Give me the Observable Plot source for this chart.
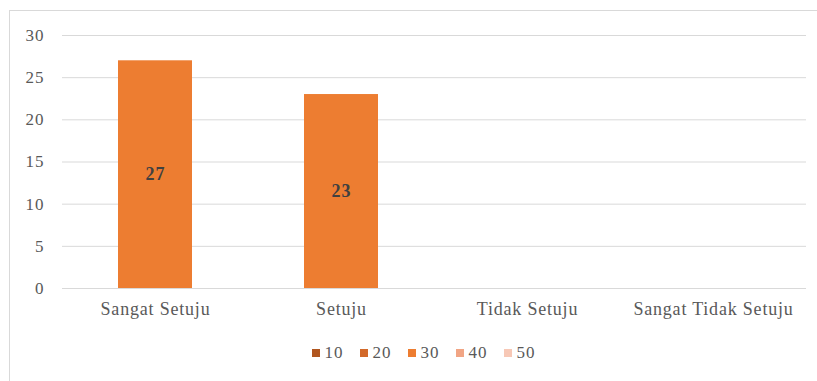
<!DOCTYPE html>
<html>
<head>
<meta charset="utf-8">
<script src="https://cdn.jsdelivr.net/npm/d3@7"></script>
<script src="https://cdn.jsdelivr.net/npm/@observablehq/plot@0.6"></script>
<style>
  html, body { margin: 0; padding: 0; background: #fff; }
  #wrap { position: relative; width: 817px; height: 381px; overflow: hidden; }
  #frame { position: absolute; left: 9px; top: 10px; width: 830px; height: 390px; border: 1px solid #d9d9d9; box-sizing: border-box; }
  #chart { position: absolute; left: 0; top: 0; }
  #chart g[aria-label="x-axis tick label"] text { letter-spacing: 0.8px; }
  #chart g[aria-label="y-axis tick label"] text { letter-spacing: 1px; }
  #chart g[aria-label="text"] text { letter-spacing: 1px; }
  #legend { position: absolute; left: 0; top: 343px; width: 817px; display: flex; justify-content: center; padding-left: 30px; box-sizing: border-box;
            font-family: "Liberation Serif", "Times New Roman", serif; font-size: 17px; color: #595959; letter-spacing: 1px; }
  .item { display: flex; align-items: center; margin: 0 8px; }
  .sw { width: 8px; height: 8px; margin-right: 5px; }
</style>
</head>
<body>
<div id="wrap">
  <div id="frame"></div>
  <div id="chart"></div>
  <div id="legend"></div>
</div>
<script>
const categories = ["Sangat Setuju", "Setuju", "Tidak Setuju", "Sangat Tidak Setuju"];
const values = [27, 23, null, null];
const yTicks = [0, 5, 10, 15, 20, 25, 30];
const legendLabels = ["10", "20", "30", "40", "50"];
const legendColors = ["#b0561f", "#d2692a", "#ed7d31", "#f1a584", "#f7c8b6"];
const barColor = "#ed7d31";

const data = categories.map((c, i) => ({category: c, value: values[i]})).filter(d => d.value != null);

const font = "'Liberation Serif', 'Times New Roman', serif";
const chart = Plot.plot({
  width: 817,
  height: 330,
  marginLeft: 62,
  marginRight: 11,
  marginTop: 35,
  marginBottom: 42,
  style: {fontFamily: font, fontSize: "17px", color: "#595959", background: "transparent"},
  x: {domain: categories, paddingInner: 0.6, paddingOuter: 0.3, label: null},
  y: {domain: [0, 30], ticks: yTicks, label: null},
  marks: [
    Plot.gridY(yTicks, {stroke: "#d9d9d9", strokeOpacity: 1, strokeWidth: 1}),
    Plot.axisY(yTicks, {tickSize: 0, tickPadding: 18, label: null, fontSize: 17}),
    Plot.axisX({tickSize: 0, tickPadding: 14, label: null, fontSize: 18}),
    Plot.barY(data, {x: "category", y: "value", fill: barColor}),
    Plot.text(data, {x: "category", y: d => d.value / 2, text: d => String(d.value),
      fill: "#404040", fontWeight: "bold", fontSize: 18, fontFamily: font})
  ]
});
document.getElementById("chart").appendChild(chart);

const legend = document.getElementById("legend");
legendLabels.forEach((l, i) => {
  const it = document.createElement("div");
  it.className = "item";
  const sw = document.createElement("div");
  sw.className = "sw";
  sw.style.background = legendColors[i];
  const t = document.createElement("span");
  t.textContent = l;
  it.appendChild(sw);
  it.appendChild(t);
  legend.appendChild(it);
});
</script>
</body>
</html>
